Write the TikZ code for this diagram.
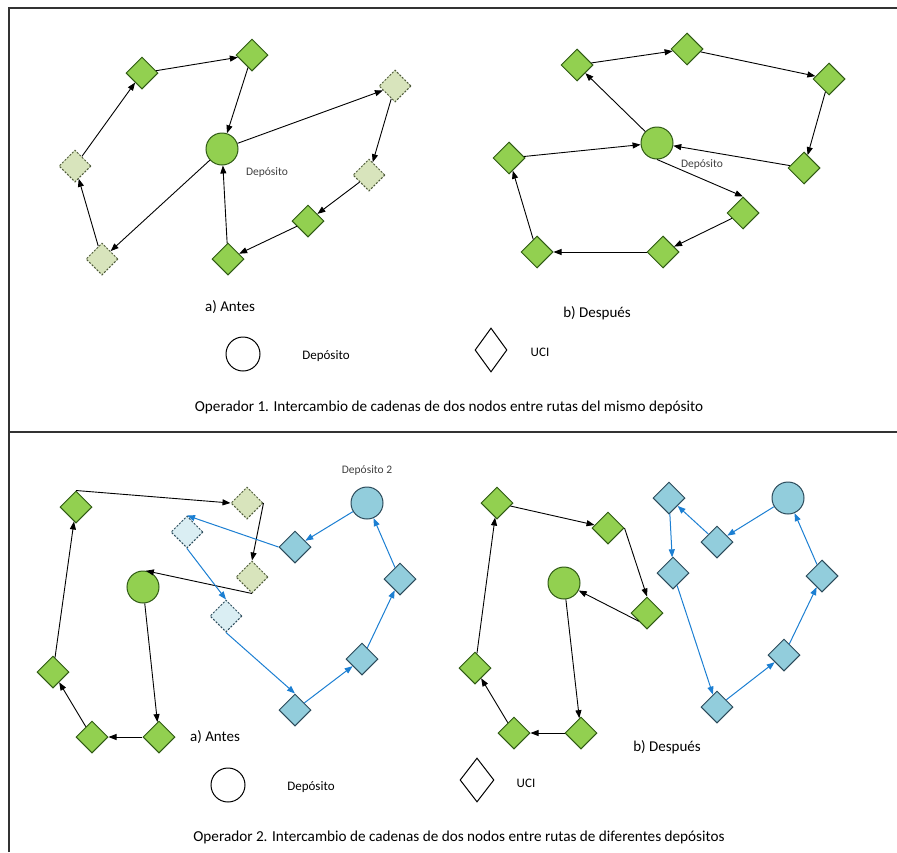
\documentclass[tikz,border=0pt]{standalone}
\usepackage{fontspec}
\setmainfont{Carlito}
\usetikzlibrary{shapes.geometric,arrows.meta}
\definecolor{ucigreen}{HTML}{92D050}
\definecolor{greenline}{HTML}{2F5A14}
\definecolor{ucipale}{HTML}{D8E4BC}
\definecolor{paleline}{HTML}{4E5A3A}
\definecolor{uciblue}{HTML}{92CDDC}
\definecolor{blueline}{HTML}{2B4A5A}
\definecolor{ucibluepale}{HTML}{DAEEF3}
\definecolor{routeblue}{HTML}{1C7FD2}
\tikzset{
  depot/.style={circle,draw=greenline,fill=ucigreen,line width=1pt,minimum size=32pt,inner sep=0pt},
  depotb/.style={depot,draw=blueline,fill=uciblue},
  uci/.style={diamond,draw=greenline,fill=ucigreen,line width=1pt,minimum width=32pt,minimum height=32pt,inner sep=0pt},
  ucimoved/.style={uci,draw=paleline,fill=ucipale,dash pattern=on 2pt off 1.5pt},
  ucib/.style={uci,draw=blueline,fill=uciblue},
  ucibmoved/.style={uci,draw=blueline,fill=ucibluepale,dash pattern=on 2pt off 1.5pt},
  route/.style={draw=black,line width=0.9pt,-{Triangle[length=8pt,width=6pt]}},
  routeb/.style={draw=routeblue,line width=1pt,-{Triangle[length=8pt,width=6pt]}},
  deplabel/.style={text=black!75,font=\fontsize{11.5}{13}\selectfont},
  caselabel/.style={font=\fontsize{15}{17}\selectfont},
  keylabel/.style={font=\fontsize{13}{15}\selectfont},
  caption/.style={font=\fontsize{15.2}{17}\selectfont}
}
\begin{document}
\begin{tikzpicture}[x=1pt,y=-1pt]
\useasboundingbox (0,0) rectangle (897,852);
\draw[black!80,line width=2pt] (9,852) -- (9,8) -- (897,8);
\draw[black!80,line width=2pt] (9,432) -- (897,432);

\node[depot] (dA) at (222,149) {};
\node[uci] (a1) at (142,73) {};
\node[uci] (a2) at (252,55) {};
\node[ucimoved] (a3) at (395,86) {};
\node[ucimoved] (a4) at (369,175) {};
\node[uci] (a5) at (308,221) {};
\node[uci] (a6) at (228,259) {};
\node[ucimoved] (a7) at (102,259) {};
\node[ucimoved] (a8) at (75,166) {};
\node[deplabel] (la) at (267,172) {Depósito};
\draw[route] (a2) -- (dA);
\draw[route] (dA) -- (a3);
\draw[route] (a3) -- (a4);
\draw[route] (a4) -- (a5);
\draw[route] (a5) -- (a6);
\draw[route] (a6) -- (dA);
\draw[route] (dA) -- (a7);
\draw[route] (a7) -- (a8);
\draw[route] (a8) -- (a1);
\draw[route] (a1) -- (a2);

\node[depot] (dB) at (657,143) {};
\node[uci] (b1) at (577,65) {};
\node[uci] (b2) at (687,49) {};
\node[uci] (b3) at (829,79) {};
\node[uci] (b4) at (804,168) {};
\node[uci] (b5) at (743,213) {};
\node[uci] (b6) at (663,252) {};
\node[uci] (b7) at (537,252) {};
\node[uci] (b8) at (509,158) {};
\node[deplabel] (lb) at (702,164) {Depósito};
\draw[route] (dB) -- (b1);
\draw[route] (b1) -- (b2);
\draw[route] (b2) -- (b3);
\draw[route] (b3) -- (b4);
\draw[route] (b4) -- (dB);
\draw[route] (dB.south) -- (b5.north);
\draw[route] (b5) -- (b6);
\draw[route] (b6) -- (b7);
\draw[route] (b7) -- (b8);
\draw[route] (b8) -- (dB);

\node[caselabel] (antes1) at (230,307) {a) Antes};
\node[caselabel] (despues1) at (597,313) {b) Después};
\node[circle,draw,line width=1pt,minimum size=34pt,inner sep=0pt] (kd1) at (243,354) {};
\node[keylabel] (kdl1) at (326,356) {Depósito};
\node[diamond,draw,line width=1pt,minimum width=32pt,minimum height=44pt,inner sep=0pt] (ku1) at (491,350) {};
\node[keylabel] (kul1) at (540,352) {UCI};
\node[caption] (cap1) at (449,407) {Operador 1. Intercambio de cadenas de dos nodos entre rutas del mismo depósito};

\node[depot] (dC) at (143,587) {};
\node[uci] (c1) at (76,507) {};
\node[ucimoved] (c2) at (247,503) {};
\node[ucimoved] (c3) at (252,577) {};
\node[uci] (c4) at (53,672) {};
\node[uci] (c5) at (92,737) {};
\node[uci] (c6) at (159,737) {};
\draw[route] (dC) -- (c6);
\draw[route] (c6) -- (c5);
\draw[route] (c5) -- (c4);
\draw[route] (c4) -- (c1);
\draw[route] (c1.north) -- (c2.west);
\draw[route] (c2.east) -- (c3.north);
\draw[route] (c3.south) -- (dC.80);

\node[depotb] (dD) at (367,503) {};
\node[ucib] (d1) at (295,547) {};
\node[ucibmoved] (d2) at (187,532) {};
\node[ucibmoved] (d3) at (226,616) {};
\node[ucib] (d4) at (295,710) {};
\node[ucib] (d5) at (362,659) {};
\node[ucib] (d6) at (400,579) {};
\node[deplabel] (ld) at (367,470) {Depósito 2};
\draw[routeb] (dD) -- (d1);
\draw[routeb] (d1.west) -- (d2.north);
\draw[routeb] (d2.south) -- (d3.north);
\draw[routeb] (d3.south) -- (d4.north);
\draw[routeb] (d4) -- (d5);
\draw[routeb] (d5) -- (d6);
\draw[routeb] (d6) -- (dD);

\node[depot] (dE) at (564,583) {};
\node[uci] (e1) at (497,503) {};
\node[uci] (e2) at (608,528) {};
\node[uci] (e3) at (647,613) {};
\node[uci] (e4) at (475,668) {};
\node[uci] (e5) at (514,733) {};
\node[uci] (e6) at (581,733) {};
\draw[route] (dE) -- (e6);
\draw[route] (e6) -- (e5);
\draw[route] (e5) -- (e4);
\draw[route] (e4) -- (e1);
\draw[route] (e1) -- (e2);
\draw[route] (e2.east) -- (e3.north);
\draw[route] (e3.south west) -- (dE);

\node[depotb] (dF) at (788,498) {};
\node[ucib] (f1) at (669,498) {};
\node[ucib] (f2) at (717,542) {};
\node[ucib] (f3) at (673,573) {};
\node[ucib] (f4) at (717,707) {};
\node[ucib] (f5) at (784,655) {};
\node[ucib] (f6) at (822,576) {};
\draw[routeb] (dF) -- (f2);
\draw[routeb] (f2) -- (f1);
\draw[routeb] (f1) -- (f3);
\draw[routeb] (f3) -- (f4);
\draw[routeb] (f4) -- (f5);
\draw[routeb] (f5) -- (f6);
\draw[routeb] (f6) -- (dF);

\node[caselabel] (antes2) at (215,737) {a) Antes};
\node[caselabel] (despues2) at (667,747) {b) Después};
\node[circle,draw,line width=1pt,minimum size=34pt,inner sep=0pt] (kd2) at (228,785) {};
\node[keylabel] (kdl2) at (311,787) {Depósito};
\node[diamond,draw,line width=1pt,minimum width=34pt,minimum height=44pt,inner sep=0pt] (ku2) at (477,780) {};
\node[keylabel] (kul2) at (526,783) {UCI};
\node[caption] (cap2) at (459,837) {Operador 2. Intercambio de cadenas de dos nodos entre rutas de diferentes depósitos};
\end{tikzpicture}
\end{document}
